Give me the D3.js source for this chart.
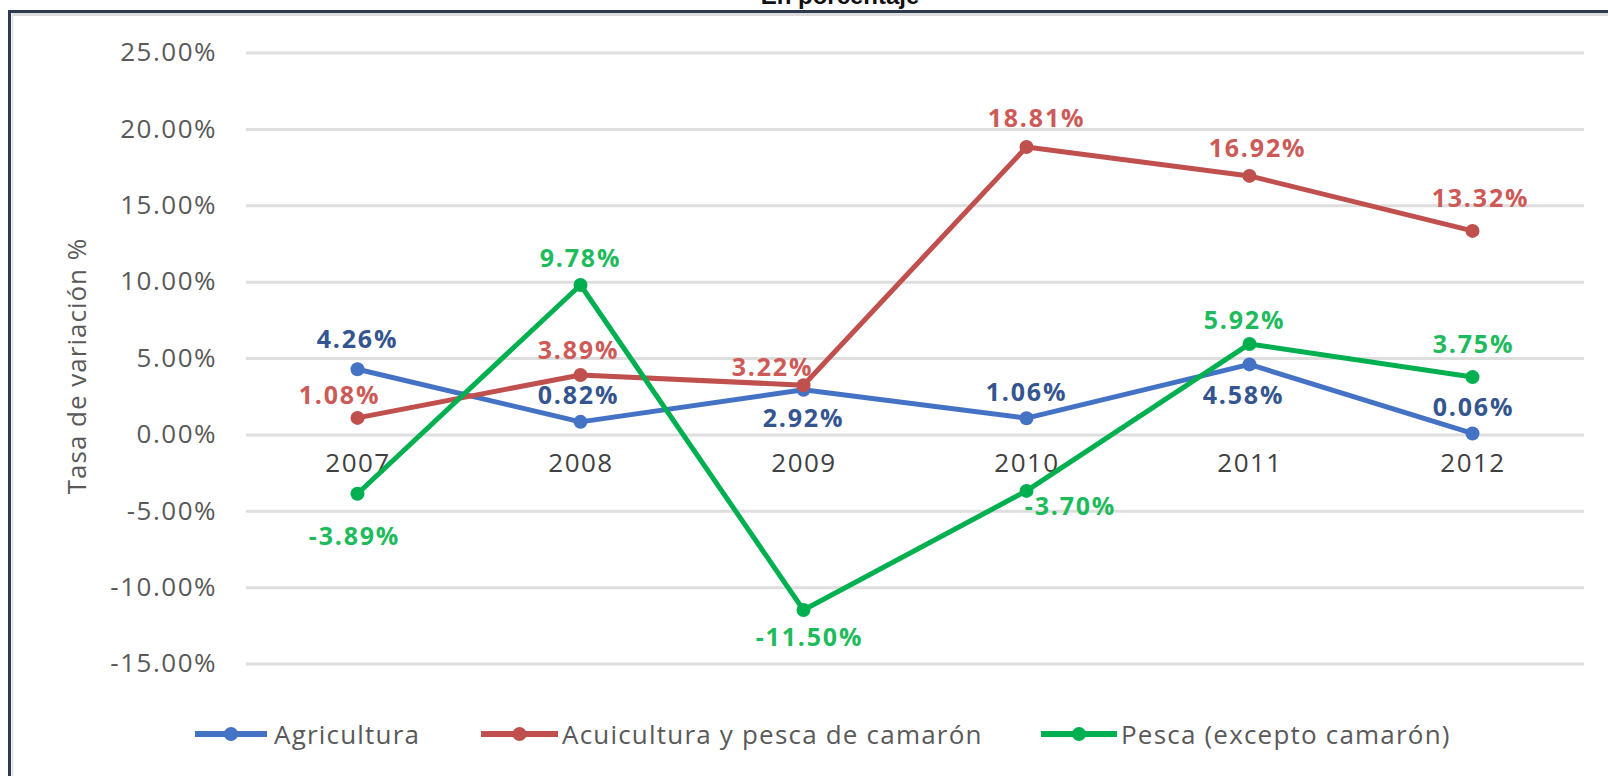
<!DOCTYPE html>
<html><head><meta charset="utf-8">
<script src="https://cdn.jsdelivr.net/npm/d3@7"></script>
<style>
html,body{margin:0;padding:0;background:#fff;overflow:hidden}
svg{display:block}
text{font-family:"Open Sans","Noto Sans",sans-serif}
</style></head>
<body>
<svg id="chart" width="1608" height="776"></svg>
<script>
// ---- data ----
const years = ["2007","2008","2009","2010","2011","2012"];
const agricultura = [4.26, 0.82, 2.92, 1.06, 4.58, 0.06];
const acuicultura = [1.08, 3.89, 3.22, 18.81, 16.92, 13.32];
const pesca = [-3.89, 9.78, -11.50, -3.70, 5.92, 3.75];
const seriesNames = ["Agricultura", "Acuicultura y pesca de camarón", "Pesca (excepto camarón)"];
const yTicks = [25, 20, 15, 10, 5, 0, -5, -10, -15];
const title = "En porcentaje";
const yTitle = "Tasa de variación %";

// ---- layout / style ----
const colors = ["#4472c4", "#c0504d", "#00b050"];
const labelColors = ["#34558f", "#cd5a57", "#1dbb5c"];
// label offsets [dx, dy] relative to point
const labelOffsets = [
  [[0,-31],[-2,-28],[0,27],[0,-27],[-6,30],[1,-27]],
  [[-18,-24],[-2,-26],[-31,-19],[10,-30],[8,-29],[8,-34]],
  [[-3,41],[0,-28],[6,26],[44,14],[-5,-25],[1,-34]]
];

const fmt = d => d3.format(".2f")(d).replace("\u2212", "-") + "%";

const svg = d3.select("#chart");
const x = d3.scalePoint().domain(years).range([246, 1584]).padding(0.5);
const y = d3.scaleLinear().domain([-15, 25]).range([663.5, 52.5]);

// frame
svg.append("line").attr("x1", 8).attr("x2", 1608).attr("y1", 11.5).attr("y2", 11.5)
  .attr("stroke", "#2e3a4f").attr("stroke-width", 3);
svg.append("line").attr("x1", 12).attr("x2", 1608).attr("y1", 14.5).attr("y2", 14.5)
  .attr("stroke", "#dcdcdc").attr("stroke-width", 3);
svg.append("line").attr("x1", 9.5).attr("x2", 9.5).attr("y1", 10).attr("y2", 776)
  .attr("stroke", "#2e3a4f").attr("stroke-width", 3);
svg.append("line").attr("x1", 12.5).attr("x2", 12.5).attr("y1", 13).attr("y2", 776)
  .attr("stroke", "#e4e4e4").attr("stroke-width", 2);

// title (cut off at top as in the reference)
svg.append("text").attr("x", 840).attr("y", 4).attr("text-anchor", "middle")
  .style("font-family", "'Liberation Sans Narrow','Liberation Sans',Arial,sans-serif")
  .attr("font-weight", "bold").attr("font-size", 24).attr("fill", "#111").text(title);

// gridlines + y axis labels
const yAxis = d3.axisLeft(y).tickValues(yTicks)
  .tickSize(-(1584 - 246)).tickPadding(246 - 217)
  .tickFormat(fmt);
const ga = svg.append("g").attr("transform", "translate(246,0)").call(yAxis);
ga.select(".domain").remove();
ga.selectAll(".tick line").attr("stroke", "#dedede").attr("stroke-width", 3);
ga.selectAll(".tick text").attr("fill", "#595959").attr("font-size", 26)
  .attr("letter-spacing", 1.5)
  .style("font-family", "'Open Sans','Noto Sans',sans-serif");

// x category labels
const xAxis = d3.axisBottom(x).tickSize(0).tickPadding(0);
const gx = svg.append("g").attr("transform", `translate(0,${y(0)})`).call(xAxis);
gx.select(".domain").remove();
gx.selectAll(".tick text").attr("fill", "#404040").attr("font-size", 26)
  .attr("letter-spacing", 1.5)
  .attr("dy", null).attr("y", 38)
  .style("font-family", "'Open Sans','Noto Sans',sans-serif");

// y title
svg.append("text").attr("transform", "translate(86,366) rotate(-90)")
  .attr("text-anchor", "middle").attr("fill", "#595959").attr("font-size", 26)
  .attr("letter-spacing", 1)
  .text(yTitle);

// series
const allSeries = [agricultura, acuicultura, pesca];
const line = d3.line().x((d, i) => x(years[i])).y(d => y(d));
allSeries.forEach((vals, s) => {
  const g = svg.append("g");
  g.append("path").datum(vals).attr("d", line).attr("fill", "none")
    .attr("stroke", colors[s]).attr("stroke-width", 5).attr("stroke-linejoin", "round");
  g.selectAll("circle").data(vals).join("circle")
    .attr("cx", (d, i) => x(years[i])).attr("cy", d => y(d)).attr("r", 7)
    .attr("fill", colors[s]);
});
// data labels
allSeries.forEach((vals, s) => {
  svg.append("g").selectAll("text").data(vals).join("text")
    .attr("x", (d, i) => x(years[i]) + labelOffsets[s][i][0])
    .attr("y", (d, i) => y(d) + labelOffsets[s][i][1])
    .attr("dominant-baseline", "central").attr("text-anchor", "middle")
    .attr("font-weight", "bold").attr("font-size", 25).attr("letter-spacing", 1.8)
    .attr("fill", labelColors[s])
    .text(fmt);
});

// legend
const legendItems = [
  {x1: 195, x2: 267, tx: 274},
  {x1: 481, x2: 558, tx: 562},
  {x1: 1041, x2: 1117, tx: 1121}
];
const ly = 734;
const lg = svg.append("g");
legendItems.forEach((it, s) => {
  lg.append("line").attr("x1", it.x1).attr("x2", it.x2).attr("y1", ly).attr("y2", ly)
    .attr("stroke", colors[s]).attr("stroke-width", 6);
  lg.append("circle").attr("cx", (it.x1 + it.x2) / 2).attr("cy", ly).attr("r", 7).attr("fill", colors[s]);
  lg.append("text").attr("x", it.tx).attr("y", ly).attr("dominant-baseline", "central")
    .attr("fill", "#595959").attr("font-size", 26).attr("letter-spacing", 1.2)
    .text(seriesNames[s]);
});
</script>
</body></html>
